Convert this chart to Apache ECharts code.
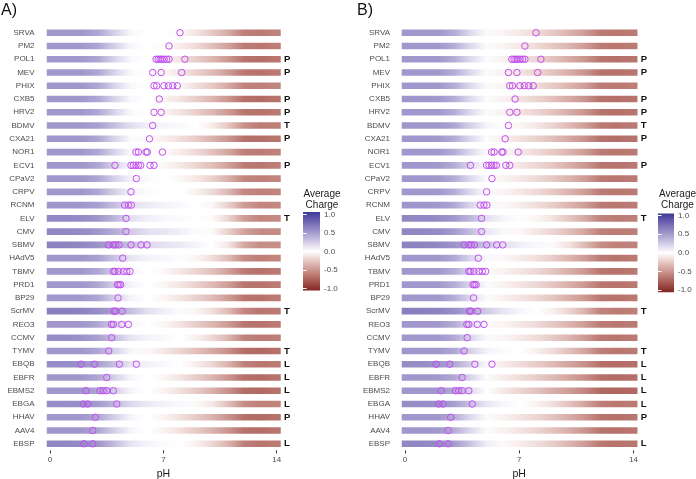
<!DOCTYPE html>
<html><head><meta charset="utf-8">
<script src="https://cdn.jsdelivr.net/npm/echarts/dist/echarts.min.js"></script>
<style>html,body{margin:0;padding:0;background:#fff}#c{width:696px;height:479px}</style>
</head><body><div id="c"></div>
<script>
// ---------- DATA ----------
const viruses = ['SRVA','PM2','POL1','MEV','PHIX','CXB5','HRV2','BDMV','CXA21','NOR1','ECV1','CPaV2','CRPV','RCNM','ELV','CMV','SBMV','HAdV5','TBMV','PRD1','BP29','ScrMV','REO3','CCMV','TYMV','EBQB','EBFR','EBMS2','EBGA','HHAV','AAV4','EBSP'];
const virusType = ['','','P','P','','P','P','T','P','','P','','','','T','','','','','','','T','','','T','L','L','L','L','P','','L'];
const isoelectric = [
 [8.03],[7.35],[6.55,6.68,6.8,6.92,7.05,7.2,7.35,8.33],[6.34,6.86,8.13],[6.42,6.59,7.04,7.31,7.58,7.86],
 [6.75],[6.42,6.86],[6.34],[6.14],[5.31,5.46,5.93,6.01,6.94],
 [4.01,5.0,5.15,5.31,5.46,5.6,6.18,6.42],[5.33],[5.0],[4.61,4.84,5.02],[4.69],[4.69],
 [3.62,3.91,4.06,4.26,5.0,5.62,5.99],[4.49],[3.91,4.01,4.22,4.53,4.74,4.94],[4.16,4.26,4.36],[4.2],
 [3.95,4.04,4.45],[3.79,3.91,4.43,4.84],[3.81],[3.62],[1.91,2.74,4.28,5.33],[3.5],
 [2.22,3.09,3.29,3.5,3.91],[2.06,2.33,4.12],[2.8],[2.64],[2.1,2.64]
];
const pHGrid = [0,1,2,3,4,5,6,7,8,9,10,11,12,13,14];
const chargeA = [
 [.5,.5,.5,.42,.22,.04,0,0,-.03,-.12,-.24,-.38,-.58,-.6,-.56],
 [.5,.5,.5,.42,.22,.04,0,-.02,-.08,-.16,-.28,-.42,-.6,-.62,-.58],
 [.5,.5,.5,.42,.2,.03,0,-.05,-.12,-.22,-.32,-.46,-.64,-.66,-.62],
 [.5,.5,.5,.42,.2,.03,0,-.04,-.11,-.2,-.3,-.44,-.62,-.64,-.6],
 [.5,.5,.5,.42,.2,.03,0,0,-.04,-.13,-.24,-.38,-.56,-.58,-.54],
 [.5,.5,.5,.42,.2,.03,0,-.05,-.12,-.22,-.33,-.47,-.65,-.67,-.63],
 [.5,.5,.5,.42,.2,.03,0,-.05,-.12,-.21,-.32,-.45,-.62,-.64,-.6],
 [.5,.5,.5,.45,.3,.15,.08,.05,.03,0,-.08,-.25,-.5,-.6,-.58],
 [.5,.5,.5,.42,.2,.02,-.02,-.07,-.14,-.23,-.34,-.47,-.64,-.66,-.62],
 [.5,.5,.5,.42,.2,.03,0,-.02,-.08,-.16,-.27,-.4,-.58,-.6,-.56],
 [.5,.5,.5,.42,.2,.03,0,-.03,-.1,-.18,-.29,-.42,-.6,-.62,-.58],
 [.5,.5,.5,.42,.22,.06,.02,0,-.03,-.1,-.2,-.35,-.55,-.58,-.55],
 [.5,.5,.5,.42,.22,.06,.02,0,0,-.06,-.16,-.32,-.54,-.58,-.55],
 [.5,.5,.5,.45,.3,.15,.1,.06,.03,0,-.04,-.2,-.45,-.55,-.54],
 [.58,.58,.56,.5,.35,.15,.08,.04,.02,0,-.02,-.18,-.45,-.55,-.53],
 [.58,.58,.56,.5,.4,.25,.15,.12,.08,.02,-.02,-.2,-.42,-.52,-.52],
 [.6,.6,.58,.52,.42,.28,.18,.14,.1,.05,0,-.1,-.4,-.52,-.5],
 [.5,.5,.5,.45,.28,.12,.06,.04,.01,-.04,-.14,-.3,-.52,-.58,-.55],
 [.5,.5,.5,.42,.22,.05,0,-.03,-.1,-.18,-.28,-.42,-.6,-.64,-.6],
 [.5,.5,.5,.42,.22,.05,0,-.04,-.11,-.2,-.3,-.44,-.62,-.64,-.6],
 [.5,.5,.5,.42,.22,.05,0,-.04,-.11,-.2,-.3,-.44,-.62,-.64,-.6],
 [.62,.62,.6,.55,.45,.3,.15,.08,.02,-.04,-.14,-.3,-.55,-.62,-.6],
 [.5,.5,.5,.42,.22,.05,0,-.04,-.12,-.22,-.32,-.45,-.62,-.64,-.6],
 [.55,.55,.52,.45,.3,.12,.06,.03,0,-.06,-.17,-.33,-.56,-.6,-.58],
 [.5,.5,.5,.42,.22,.04,-.03,-.1,-.18,-.28,-.38,-.5,-.66,-.68,-.64],
 [.55,.55,.52,.45,.3,.12,.06,.03,0,-.07,-.18,-.34,-.57,-.62,-.6],
 [.5,.5,.5,.42,.22,.05,0,-.04,-.12,-.22,-.33,-.47,-.65,-.67,-.63],
 [.5,.5,.5,.42,.22,.05,0,-.05,-.13,-.23,-.35,-.49,-.66,-.68,-.64],
 [.55,.55,.54,.48,.34,.18,.1,.06,.03,-.02,-.1,-.28,-.52,-.58,-.56],
 [.5,.5,.5,.42,.22,.05,0,-.05,-.13,-.23,-.34,-.48,-.65,-.67,-.63],
 [.5,.5,.5,.42,.22,.05,0,-.05,-.13,-.23,-.34,-.48,-.64,-.66,-.62],
 [.58,.58,.56,.5,.32,.12,.05,.02,0,-.06,-.17,-.34,-.58,-.63,-.6]
];
const chargeB = [
 [.5,.5,.5,.4,.18,.02,-.05,-.1,-.16,-.24,-.33,-.44,-.6,-.62,-.6],
 [.5,.5,.5,.4,.18,.02,-.05,-.1,-.16,-.24,-.33,-.44,-.6,-.62,-.6],
 [.5,.5,.5,.4,.18,.02,-.06,-.12,-.18,-.26,-.36,-.47,-.63,-.65,-.62],
 [.5,.5,.5,.4,.18,.02,-.06,-.12,-.18,-.26,-.36,-.47,-.63,-.65,-.62],
 [.5,.5,.5,.4,.18,.02,-.05,-.1,-.15,-.23,-.32,-.43,-.59,-.61,-.58],
 [.5,.5,.5,.4,.18,.02,-.06,-.12,-.19,-.27,-.37,-.48,-.64,-.66,-.63],
 [.5,.5,.5,.4,.18,.02,-.06,-.12,-.18,-.26,-.36,-.47,-.63,-.65,-.62],
 [.5,.5,.5,.43,.22,.05,0,-.04,-.1,-.19,-.3,-.42,-.6,-.63,-.6],
 [.5,.5,.5,.4,.18,.01,-.07,-.13,-.2,-.28,-.38,-.49,-.64,-.66,-.63],
 [.5,.5,.5,.4,.18,.02,-.05,-.1,-.16,-.24,-.33,-.44,-.6,-.62,-.6],
 [.5,.5,.5,.4,.18,.02,-.06,-.11,-.17,-.25,-.35,-.46,-.62,-.64,-.61],
 [.5,.5,.5,.4,.18,.02,-.05,-.1,-.16,-.24,-.33,-.44,-.6,-.62,-.6],
 [.5,.5,.5,.4,.18,.02,-.05,-.1,-.16,-.24,-.33,-.44,-.6,-.62,-.6],
 [.5,.5,.5,.42,.2,.04,-.03,-.08,-.14,-.22,-.32,-.43,-.6,-.62,-.6],
 [.58,.58,.56,.5,.35,.15,.05,.01,-.04,-.12,-.25,-.38,-.56,-.6,-.58],
 [.58,.58,.56,.48,.32,.12,.03,-.03,-.1,-.18,-.28,-.4,-.57,-.6,-.58],
 [.6,.6,.58,.52,.42,.28,.15,.08,.03,-.02,-.12,-.3,-.52,-.58,-.56],
 [.5,.5,.5,.42,.2,.03,-.03,-.08,-.14,-.22,-.32,-.44,-.6,-.63,-.6],
 [.5,.5,.5,.4,.18,.02,-.06,-.11,-.17,-.25,-.35,-.46,-.62,-.64,-.61],
 [.5,.5,.5,.4,.18,.02,-.06,-.11,-.17,-.25,-.35,-.46,-.62,-.64,-.61],
 [.5,.5,.5,.4,.18,.02,-.06,-.11,-.17,-.25,-.35,-.46,-.62,-.64,-.61],
 [.62,.62,.6,.55,.42,.25,.12,.05,0,-.06,-.18,-.34,-.56,-.6,-.58],
 [.5,.5,.5,.4,.18,.02,-.05,-.1,-.16,-.24,-.33,-.44,-.6,-.62,-.6],
 [.5,.5,.5,.42,.2,.03,-.04,-.09,-.15,-.23,-.33,-.45,-.61,-.63,-.6],
 [.5,.5,.5,.42,.22,.06,.02,0,-.06,-.15,-.27,-.4,-.58,-.62,-.6],
 [.55,.55,.52,.42,.22,.03,-.08,-.15,-.22,-.3,-.4,-.5,-.65,-.67,-.65],
 [.5,.5,.5,.42,.2,.02,-.08,-.15,-.22,-.3,-.4,-.5,-.65,-.67,-.65],
 [.5,.5,.5,.4,.18,0,-.1,-.18,-.26,-.35,-.44,-.54,-.68,-.7,-.68],
 [.55,.55,.54,.46,.3,.12,.04,0,-.05,-.14,-.26,-.4,-.58,-.62,-.6],
 [.5,.5,.5,.4,.18,.02,-.06,-.12,-.18,-.26,-.36,-.47,-.63,-.65,-.62],
 [.5,.5,.5,.4,.18,.02,-.06,-.12,-.18,-.26,-.36,-.47,-.63,-.65,-.62],
 [.58,.58,.56,.48,.28,.08,-.02,-.08,-.14,-.22,-.32,-.44,-.61,-.64,-.62]
];
const panelTitles = ['A)','B)'];
const legendTitle = 'Average\nCharge';
const axisTitle = 'pH';

// ---------- COLOUR SCALE (gradient2, Lab interpolation) ----------
const HIGH = '#3A3A98', LOW = '#832424';
function hex2rgb(h){return [parseInt(h.slice(1,3),16),parseInt(h.slice(3,5),16),parseInt(h.slice(5,7),16)];}
function s2l(c){c/=255;return c<=0.04045?c/12.92:Math.pow((c+0.055)/1.055,2.4);}
function l2s(c){c=c<=0.0031308?12.92*c:1.055*Math.pow(c,1/2.4)-0.055;return Math.round(Math.max(0,Math.min(1,c))*255);}
function rgb2lab(rgb){const [r,g,b]=rgb.map(s2l);
 const x=(0.4124*r+0.3576*g+0.1805*b)/0.95047,y=0.2126*r+0.7152*g+0.0722*b,z=(0.0193*r+0.1192*g+0.9505*b)/1.08883;
 const f=t=>t>0.008856?Math.cbrt(t):(7.787*t+16/116);
 const fx=f(x),fy=f(y),fz=f(z);return [116*fy-16,500*(fx-fy),200*(fy-fz)];}
function lab2rgb(l){const fy=(l[0]+16)/116,fx=fy+l[1]/500,fz=fy-l[2]/200;
 const fi=t=>t*t*t>0.008856?t*t*t:(t-16/116)/7.787;
 const x=fi(fx)*0.95047,y=fi(fy),z=fi(fz)*1.08883;
 const r=3.2406*x-1.5372*y-0.4986*z,g=-0.9689*x+1.8758*y+0.0415*z,b=0.0557*x-0.2040*y+1.0570*z;
 return 'rgb('+l2s(r)+','+l2s(g)+','+l2s(b)+')';}
const LW=rgb2lab([255,255,255]),LH=rgb2lab(hex2rgb(HIGH)),LL=rgb2lab(hex2rgb(LOW));
function chargeColor(v){v=Math.max(-1,Math.min(1,v));const e=v>=0?LH:LL,t=Math.abs(v);
 return lab2rgb([0,1,2].map(k=>LW[k]+(e[k]-LW[k])*t));}

// ---------- LAYOUT ----------
const FONT = 'Liberation Sans, Arial, sans-serif';
const BAR_FROM = -0.2, BAR_TO = 14.25;
const panels = [
 {left:50, width:226.7, yOffset:11, charges:chargeA, leg:{left:303, top:214.3, width:17, height:74}, legTitleX:322, titleX:1},
 {left:405, width:228.4, yOffset:10.5, charges:chargeB, leg:{left:658, top:215.7, width:16, height:74.3}, legTitleX:677.5, titleX:357}
];
const TOP = 26.1, HEIGHT = 424.3;

const chart = echarts.init(document.getElementById('c'), null, {renderer:'canvas'});
const grid=[],xAxis=[],yAxis=[],series=[],graphic=[];

panels.forEach((p,pi)=>{
 const gi = grid.length;
 grid.push({left:p.left, top:TOP, width:p.width, height:HEIGHT, outerBoundsMode:'none', containLabel:false});
 xAxis.push({gridIndex:gi, type:'value', min:0, max:14, interval:7,
  axisLine:{show:false}, splitLine:{show:false},
  axisTick:{show:true, length:3, lineStyle:{color:'#333', width:1}},
  axisLabel:{fontSize:8, color:'#4d4d4d', margin:5, fontFamily:FONT},
  name:axisTitle, nameLocation:'middle', nameGap:16, nameTextStyle:{fontSize:10.5, color:'#1a1a1a', fontFamily:FONT}});
 const yi = yAxis.length;
 yAxis.push({gridIndex:gi, type:'category', data:viruses, inverse:true, offset:p.yOffset,
  axisLine:{show:false}, splitLine:{show:false},
  axisTick:{show:true, alignWithLabel:true, length:3, lineStyle:{color:'#333', width:1}},
  axisLabel:{interval:0, fontSize:8, color:'#4d4d4d', margin:4.5, fontFamily:FONT}});
 yAxis.push({gridIndex:gi, type:'category', data:viruses, inverse:true, position:'right', offset:0,
  axisLine:{show:false}, axisTick:{show:false}, splitLine:{show:false},
  axisLabel:{interval:0, margin:7.3, fontSize:9.5, fontWeight:'bold', color:'#111', fontFamily:FONT,
   formatter:(v,idx)=>virusType[idx]}});
 const charges = p.charges;
 series.push({type:'custom', xAxisIndex:gi, yAxisIndex:yi, clip:false, silent:true, z:2,
  data: viruses.map((v,i)=>[0,i]),
  renderItem:(params,api)=>{
   const row=api.value(1);
   const a=api.coord([BAR_FROM,row]), b=api.coord([BAR_TO,row]);
   const h=api.size([0,1])[1]*0.5;
   const ch=charges[row];
   const stops=[{offset:0,color:chargeColor(ch[0])}];
   pHGrid.forEach((ph,k)=>stops.push({offset:(ph-BAR_FROM)/(BAR_TO-BAR_FROM),color:chargeColor(ch[k])}));
   stops.push({offset:1,color:chargeColor(ch[ch.length-1])});
   return {type:'rect', shape:{x:a[0], y:a[1]-h/2, width:b[0]-a[0], height:h},
    style:{fill:new echarts.graphic.LinearGradient(0,0,1,0,stops)}};
  }});
 const pts=[];
 isoelectric.forEach((arr,i)=>arr.forEach(v=>pts.push([v,i])));
 series.push({type:'scatter', xAxisIndex:gi, yAxisIndex:yi, data:pts, symbol:'circle', symbolSize:6.5, silent:true, z:5,
  itemStyle:{color:'rgba(0,0,0,0)', borderColor:'#c24ff0', borderWidth:1, opacity:1}});

 // legend colour bar as its own small grid
 const lg = grid.length;
 grid.push({left:p.leg.left, top:p.leg.top, width:p.leg.width, height:p.leg.height, outerBoundsMode:'none', containLabel:false});
 xAxis.push({gridIndex:lg, type:'value', min:0, max:1, show:false});
 const ly = yAxis.length;
 yAxis.push({gridIndex:lg, type:'value', min:-1, max:1, interval:0.5, position:'right', z:10,
  axisLine:{show:false}, splitLine:{show:false},
  axisTick:{show:true, inside:true, length:3.5, lineStyle:{color:'#fff', width:1}},
  axisLabel:{fontSize:8, color:'#4d4d4d', margin:4, fontFamily:FONT, formatter:v=>v.toFixed(1)}});
 yAxis.push({gridIndex:lg, type:'value', min:-1, max:1, interval:0.5, position:'left', z:10,
  axisLine:{show:false}, splitLine:{show:false}, axisLabel:{show:false},
  axisTick:{show:true, inside:true, length:3.5, lineStyle:{color:'#fff', width:1}}});
 series.push({type:'custom', xAxisIndex:lg, yAxisIndex:ly, clip:false, silent:true, z:2, data:[[0,0]],
  renderItem:(params,api)=>{
   const a=api.coord([0,1]), b=api.coord([1,-1]);
   const ext=2.2, stops=[];
   for(let k=0;k<=40;k++){const v=1-k/20;stops.push({offset:k/40,color:chargeColor(v)});}
   return {type:'rect', shape:{x:a[0], y:a[1]-ext, width:b[0]-a[0], height:b[1]-a[1]+2*ext},
    style:{fill:new echarts.graphic.LinearGradient(0,0,0,1,stops)}};
  }});

 graphic.push({type:'text', left:p.titleX, top:3, style:{text:panelTitles[pi], font:'16px '+FONT, fill:'#111'}});
 graphic.push({type:'text', x:p.legTitleX, y:188.5, style:{text:legendTitle, font:'10px '+FONT, fill:'#1a1a1a', align:'center', verticalAlign:'top', lineHeight:11}});
});

chart.setOption({animation:false, backgroundColor:'#fff', grid, xAxis, yAxis, series, graphic});
</script></body></html>
